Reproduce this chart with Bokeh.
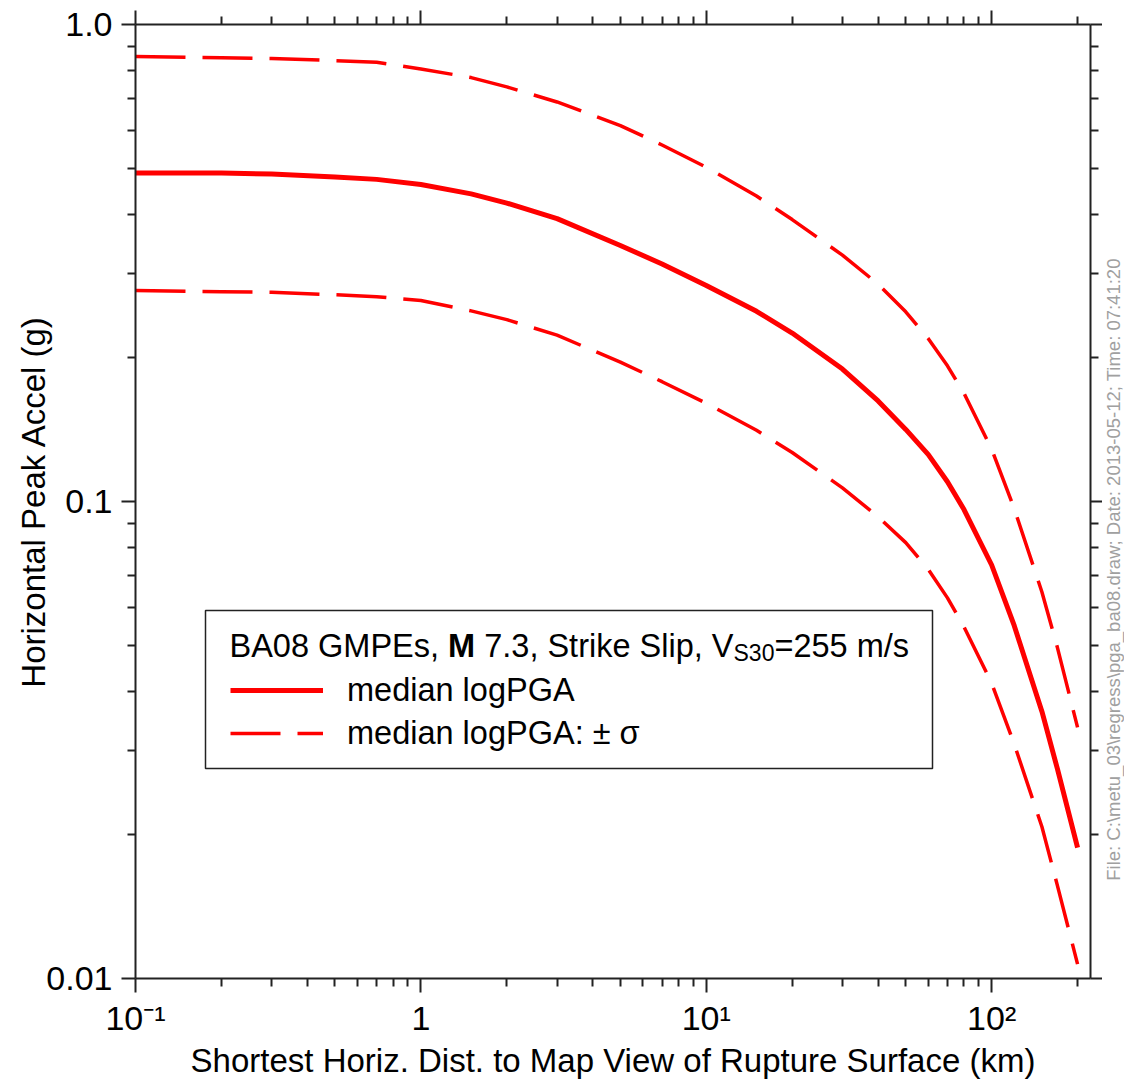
from math import pi
from bokeh.plotting import figure
from bokeh.layouts import row
from bokeh.models import (Range1d, LogAxis, FixedTicker, Legend, LegendItem,
                          Label, BoxAnnotation)
from bokeh.embed import file_html
from bokeh.resources import INLINE

# ---------------- data ----------------
distance_km = [0.1, 0.2, 0.3, 0.5, 0.7, 1, 1.5, 2, 3, 5, 7, 10, 15, 20, 30,
               40, 50, 60, 70, 80, 100, 120, 150, 170, 200]
median_pga = [0.488, 0.488, 0.486, 0.479, 0.4735, 0.462, 0.4414, 0.4223,
              0.3918, 0.3442, 0.3147, 0.2838, 0.2505, 0.2255, 0.1895, 0.1625,
              0.1416, 0.1254, 0.1100, 0.0962, 0.0736, 0.0549, 0.0363, 0.0275,
              0.0188]
plus_sigma_pga = [0.857, 0.852, 0.849, 0.840, 0.833, 0.807, 0.774, 0.740,
                  0.688, 0.614, 0.559, 0.502, 0.437, 0.390, 0.3285, 0.2856,
                  0.2498, 0.2194, 0.1925, 0.1687, 0.1287, 0.0966, 0.0646,
                  0.0494, 0.0336]
minus_sigma_pga = [0.2769, 0.2754, 0.2745, 0.2713, 0.2688, 0.2638, 0.2510,
                   0.2406, 0.2232, 0.1960, 0.1783, 0.1607, 0.1410, 0.1267,
                   0.1068, 0.0929, 0.0820, 0.0720, 0.0628, 0.0546, 0.0416,
                   0.0310, 0.0208, 0.01566, 0.01072]

x_major = [0.1, 1, 10, 100]
x_major_labels = ["10\u207b\u00b9", "1", "10\u00b9", "10\u00b2"]
x_minor = [0.2, 0.3, 0.4, 0.5, 0.6, 0.7, 0.8, 0.9,
           2, 3, 4, 5, 6, 7, 8, 9,
           20, 30, 40, 50, 60, 70, 80, 90, 200]
y_major = [0.01, 0.1, 1]
y_major_labels = ["0.01", "0.1", "1.0"]
y_minor = [0.02, 0.03, 0.04, 0.05, 0.06, 0.07, 0.08, 0.09,
           0.2, 0.3, 0.4, 0.5, 0.6, 0.7, 0.8, 0.9]

x_title = "Shortest Horiz. Dist. to Map View of Rupture Surface (km)"
y_title = "Horizontal Peak Accel (g)"
legend_labels = ["median logPGA", "median logPGA: \u00b1 \u03c3"]
file_note = ("File: C:\\metu_03\\regress\\pga_ba08.draw; Date: 2013-05-12; "
             "Time: 07:41:20")

FONT = "Liberation Sans"
RED = "#ff0000"
AX = "#222222"

p = figure(frame_width=955, frame_height=954,
           x_axis_type="log", y_axis_type="log",
           x_range=Range1d(0.1, 222), y_range=Range1d(0.01, 1.0),
           output_backend="svg", toolbar_location=None,
           min_border_left=135, min_border_right=0,
           min_border_top=24, min_border_bottom=100)
p.outline_line_color = None
p.xgrid.visible = False
p.ygrid.visible = False
p.background_fill_color = "white"
p.border_fill_color = "white"

xt = FixedTicker(ticks=x_major, minor_ticks=x_minor)
yt = FixedTicker(ticks=y_major, minor_ticks=y_minor)


def style(ax):
    ax.axis_line_width = 2
    ax.axis_line_color = AX
    ax.major_tick_line_width = 2
    ax.minor_tick_line_width = 2
    ax.major_tick_line_color = AX
    ax.minor_tick_line_color = AX
    ax.major_tick_out = 14
    ax.major_tick_in = 0
    ax.minor_tick_out = 8
    ax.minor_tick_in = 0
    ax.major_label_text_font = FONT
    ax.major_label_text_font_size = "34px"
    ax.major_label_text_color = "black"
    ax.axis_label_text_font = FONT
    ax.axis_label_text_font_style = "normal"
    ax.axis_label_text_color = "black"


xa = p.xaxis[0]
xa.ticker = xt
xa.major_label_overrides = dict(zip(x_major, x_major_labels))
style(xa)
xa.major_label_standoff = 6
xa.axis_label = x_title
xa.axis_label_text_font_size = "33px"
xa.axis_label_standoff = 2

ya = p.yaxis[0]
ya.ticker = yt
ya.major_label_overrides = dict(zip(y_major, y_major_labels))
style(ya)
ya.major_label_standoff = 9
ya.axis_label = y_title
ya.axis_label_text_font_size = "33px"
ya.axis_label_standoff = -9

top = LogAxis(ticker=xt, major_label_overrides={t: "" for t in x_major})
style(top)
top.major_label_text_font_size = "0px"
top.major_label_standoff = 0
p.add_layout(top, "above")

right = LogAxis(ticker=yt, major_label_overrides={t: "" for t in y_major})
style(right)
right.major_label_text_font_size = "0px"
right.major_label_standoff = 0
right.major_tick_out = 12
p.add_layout(right, "right")

r_hi = p.line(distance_km, plus_sigma_pga, line_color=RED, line_width=3.5,
              line_dash="50 17")
r_lo = p.line(distance_km, minus_sigma_pga, line_color=RED, line_width=3.5,
              line_dash="50 17")
r_med = p.line(distance_km, median_pga, line_color=RED, line_width=5)

# legend frame
box = BoxAnnotation(left=70, right=797, top=368, bottom=210,
                    left_units="screen", right_units="screen",
                    top_units="screen", bottom_units="screen",
                    fill_color="white", fill_alpha=1.0,
                    line_color=AX, line_alpha=1.0, line_width=1.5)
p.add_layout(box)

legend = Legend(items=[LegendItem(label=legend_labels[0], renderers=[r_med]),
                       LegendItem(label=legend_labels[1], renderers=[r_hi])],
                location=(95, 226), padding=0, margin=0, spacing=5,
                glyph_height=38, label_height=38, glyph_width=93,
                label_standoff=24, border_line_color=None,
                background_fill_alpha=0, label_text_color="black",
                label_text_font=FONT, label_text_font_size="32.5px")
p.add_layout(legend)

# legend title (with bold M and subscript S30)
TS = "32.5px"
title_parts = [
    ("BA08 GMPEs,", 94, 333, TS, "normal"),
    ("M", 312.6, 333, TS, "bold"),
    ("7.3, Strike Slip, V", 348.7, 333, TS, "normal"),
    ("S30", 598.0, 326, "23px", "normal"),
    ("=255 m/s", 638.9, 333, TS, "normal"),
]
for txt, x, y, sz, st in title_parts:
    p.add_layout(Label(x=x, y=y, x_units="screen", y_units="screen", text=txt,
                       text_font=FONT, text_font_size=sz, text_font_style=st,
                       text_color="black", text_baseline="alphabetic",
                       text_align="left"))

# narrow strip on the right carrying the vertical file note
note = figure(frame_width=22, frame_height=954,
              min_border_left=0, min_border_right=0,
              min_border_top=24, min_border_bottom=100,
              output_backend="svg", toolbar_location=None)
note.outline_line_color = None
note.xgrid.visible = False
note.ygrid.visible = False
note.xaxis.visible = False
note.yaxis.visible = False
note.background_fill_color = "white"
note.border_fill_color = "white"
note.add_layout(Label(x=11, y=409, x_units="screen", y_units="screen",
                      text=file_note, text_font=FONT, text_font_size="18.5px",
                      text_color="#a0a0a0", text_align="center",
                      text_baseline="middle", angle=pi / 2))

layout = row(p, note)
open("out.html", "w").write(file_html(layout, INLINE))
